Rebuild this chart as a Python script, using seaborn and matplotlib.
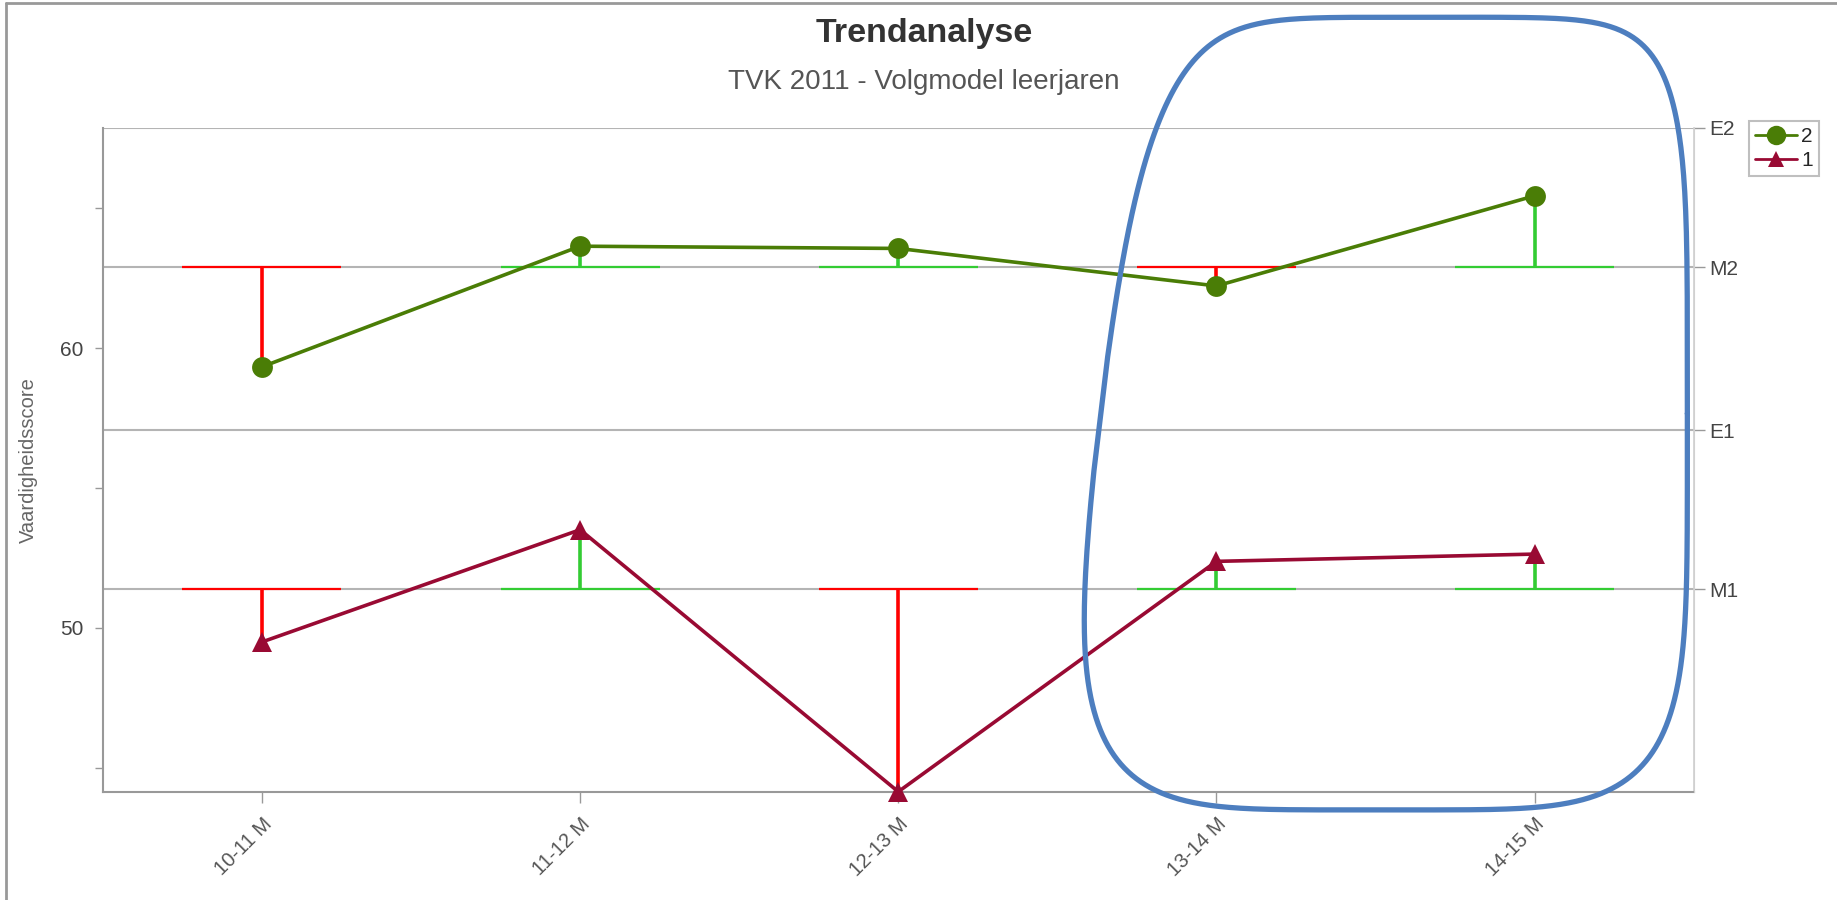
import matplotlib
matplotlib.use("Agg")
import matplotlib.pyplot as plt
import matplotlib.lines as mlines
import seaborn as sns
import numpy as np
import pandas as pd

# data
periods = ["10-11 M", "11-12 M", "12-13 M", "13-14 M", "14-15 M"]
score_2 = [59.33, 63.64, 63.56, 62.22, 65.44]
score_1 = [49.5, 53.51, 44.15, 52.38, 52.64]
norm_2 = 62.89   # M2
norm_1 = 51.38   # M1
level_names = ["M1", "E1", "M2", "E2"]
level_values = [51.38, 57.07, 62.89, 67.87]
y_min = 44.14
highlight = ["13-14 M", "14-15 M"]

green_line = "#4a7d06"
maroon_line = "#990a33"
above_col = "#33cc33"
below_col = "#ff0000"
grid_col = "#b4b4b4"
text_col = "#444444"

sns.set_style("white")
plt.rcParams['font.family'] = ['Liberation Sans', 'DejaVu Sans']

df = pd.DataFrame({
    "periode": periods * 2,
    "score": score_2 + score_1,
    "groep": ["2"] * len(periods) + ["1"] * len(periods),
})

fig = plt.figure(figsize=(18.37, 9.0), dpi=100)
ax = fig.add_axes([0.056, 0.12, 0.866, 0.738])

# reference level lines
for v in level_values:
    ax.axhline(v, color=grid_col, lw=1.5, zorder=1)

# deviation from norm: horizontal norm bar + stem, green above / red below
x_pos = np.arange(len(periods))
for scores, norm in [(score_2, norm_2), (score_1, norm_1)]:
    for xi, s in zip(x_pos, scores):
        c = above_col if s >= norm else below_col
        ax.hlines(norm, xi - 0.25, xi + 0.25, color=c, lw=1.6, zorder=2)
        ax.vlines(xi, norm, s, color=c, lw=2.6, zorder=2)

sns.lineplot(data=df, x="periode", y="score", hue="groep", style="groep",
             hue_order=["2", "1"], style_order=["2", "1"],
             palette={"2": green_line, "1": maroon_line},
             markers={"2": "o", "1": "^"}, dashes=False, sort=False,
             lw=2.6, markersize=15, markeredgewidth=0, ax=ax, legend=False,
             zorder=3, clip_on=False)

ax.set_xlim(-0.5, len(periods) - 0.5)
ax.set_ylim(y_min, level_values[-1])
ax.set_xticks(x_pos)
ax.set_xticklabels(periods, rotation=45, ha="right", rotation_mode="anchor",
                   fontsize=14.5, color="#555555")
ax.set_yticks([50, 60])
ax.set_yticks([45, 55, 65], minor=True)
ax.tick_params(axis="y", which="both", direction="out", length=6, width=1,
               color="#999999", left=True, labelsize=15, labelcolor=text_col, pad=8)
ax.tick_params(axis="x", direction="out", length=8, width=1, color="#999999",
               bottom=True, pad=8)
ax.set_xlabel("")
ax.set_ylabel("Vaardigheidsscore", fontsize=14.5, color="#666666")
ax.yaxis.set_label_coords(-0.041, 0.5)

for side in ["left", "bottom"]:
    ax.spines[side].set_color("#999999")
    ax.spines[side].set_linewidth(1.5)
ax.spines["top"].set_visible(False)
ax.spines["right"].set_color("#d0d0d0")
ax.spines["right"].set_linewidth(1.2)

# right-hand level axis
ax2 = ax.twinx()
ax2.set_ylim(ax.get_ylim())
ax2.set_yticks(level_values)
ax2.set_yticklabels(level_names)
ax2.tick_params(axis="y", direction="out", length=8, width=1, color="#999999",
                labelsize=15, labelcolor=text_col, pad=3, right=True)
for side in ["left", "bottom", "top"]:
    ax2.spines[side].set_visible(False)
ax2.spines["right"].set_color("#d0d0d0")

# hand-drawn style highlight around the last periods
i0 = periods.index(highlight[0])
i1 = periods.index(highlight[-1])
cx = (i0 + i1) / 2 + 0.02
hw = (i1 - i0) / 2 + 0.46
cy = 57.66
hh = 14.16
t = np.linspace(0, 2 * np.pi, 400)
n = 5.0
ex = cx + hw * np.sign(np.cos(t)) * np.abs(np.cos(t)) ** (2 / n)
ey = cy + hh * np.sign(np.sin(t)) * np.abs(np.sin(t)) ** (2 / n)
# lean the upper-left side inwards, smoothly
ex = ex + 0.3 * ((ey - cy) / hh + 1) ** 2 / 4 * (1 - np.cos(t)) / 2
ax.plot(ex, ey, color="#4d7ebf", lw=3.8, clip_on=False, zorder=5,
        solid_capstyle="round")

# titles
fig.text(0.503, 0.963, "Trendanalyse", ha="center", va="center",
         fontsize=24.5, fontweight="bold", color="#333333")
fig.text(0.503, 0.909, "TVK 2011 - Volgmodel leerjaren", ha="center",
         va="center", fontsize=20, color="#555555")

# legend
h2 = mlines.Line2D([], [], color=green_line, marker="o", lw=2, markersize=14,
                   markeredgewidth=0, label="2")
h1 = mlines.Line2D([], [], color=maroon_line, marker="^", lw=2, markersize=12,
                   markeredgewidth=0, label="1")
leg = fig.legend(handles=[h2, h1], loc="upper left",
                 bbox_to_anchor=(0.952, 0.866), fontsize=15, frameon=True,
                 fancybox=False, handlelength=2.0, handletextpad=0.2,
                 borderpad=0.3, labelspacing=0.25, borderaxespad=0)
leg.get_frame().set_edgecolor("#b0b0b0")
leg.get_frame().set_linewidth(1.5)

# outer frame (left and top only, as in the screenshot)
fig.add_artist(mlines.Line2D([0.0035, 0.0035], [0, 0.997], color="#999999",
                             lw=2, transform=fig.transFigure))
fig.add_artist(mlines.Line2D([0.0035, 1], [0.997, 0.997], color="#999999",
                             lw=2, transform=fig.transFigure))

plt.savefig("out.png", dpi=100)
